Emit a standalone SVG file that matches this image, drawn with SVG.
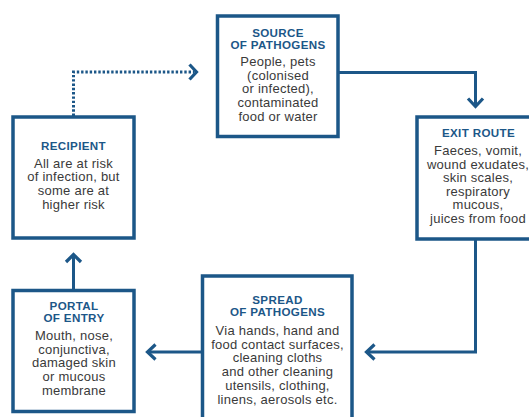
<svg xmlns="http://www.w3.org/2000/svg" width="529" height="417" viewBox="0 0 529 417">
<style>
.box{fill:#ffffff;stroke:#1c5788;stroke-width:3.5}
.t{font-family:"Liberation Sans",Arial,sans-serif;font-weight:bold;font-size:11.6px;fill:#1c5788;text-anchor:middle;letter-spacing:0.35px}
.b{font-family:"Liberation Sans",Arial,sans-serif;font-size:13px;fill:#3a3a3a;text-anchor:middle;letter-spacing:0.25px}
.c{fill:none;stroke:#1c5788;stroke-width:3}
.d{fill:none;stroke:#1c5788;stroke-width:3;stroke-dasharray:2.4 1.9}
.h{fill:none;stroke:#1c5788;stroke-width:3.2;stroke-linecap:butt;stroke-linejoin:miter}
</style>
<rect width="529" height="417" fill="#ffffff"/>
<g id="connectors">
<path class="c" d="M338 72.5 H475.5 V106"/>
<path class="h" d="M468 98.5 L475.5 106.5 L483 98.5"/>
<path class="c" d="M475.5 239 V352 H367"/>
<path class="h" d="M374.5 344.5 L366.5 352 L374.5 359.5"/>
<path class="c" d="M202 352 H148"/>
<path class="h" d="M155.5 344.5 L147.5 352 L155.5 359.5"/>
<path class="c" d="M73.5 290 V255"/>
<path class="h" d="M66 262 L73.5 254.5 L81 262"/>
<path class="d" d="M73.5 116 V72 H194"/>
<path class="h" d="M189.5 64.5 L196.5 72 L189.5 79.5"/>
</g>
<g id="source">
<rect class="box" x="217.5" y="16" width="120.5" height="120.5"/>
<text class="t" x="278" y="36.5">SOURCE</text>
<text class="t" x="278" y="48.5">OF PATHOGENS</text>
<text class="b" x="278" y="66">People, pets</text>
<text class="b" x="278" y="79.7">(colonised</text>
<text class="b" x="278" y="93.4">or infected),</text>
<text class="b" x="278" y="107.1">contaminated</text>
<text class="b" x="278" y="120.8">food or water</text>
</g>
<g id="exit">
<rect class="box" x="417" y="117" width="130" height="122"/>
<text class="t" x="478.5" y="137">EXIT ROUTE</text>
<text class="b" x="478" y="155">Faeces, vomit,</text>
<text class="b" x="478" y="168.6">wound exudates,</text>
<text class="b" x="478" y="182.2">skin scales,</text>
<text class="b" x="478" y="195.8">respiratory</text>
<text class="b" x="478" y="209.4">mucous,</text>
<text class="b" x="478" y="223">juices from food</text>
</g>
<g id="spread">
<rect class="box" x="202.5" y="276" width="149.5" height="160"/>
<text class="t" x="277.5" y="303.5">SPREAD</text>
<text class="t" x="277.5" y="315.5">OF PATHOGENS</text>
<text class="b" x="277.5" y="335">Via hands, hand and</text>
<text class="b" x="277.5" y="348.7">food contact surfaces,</text>
<text class="b" x="277.5" y="362.4">cleaning cloths</text>
<text class="b" x="277.5" y="376.1">and other cleaning</text>
<text class="b" x="277.5" y="389.8">utensils, clothing,</text>
<text class="b" x="277.5" y="403.5">linens, aerosols etc.</text>
</g>
<g id="portal">
<rect class="box" x="13" y="290.5" width="121" height="121"/>
<text class="t" x="74" y="309.5">PORTAL</text>
<text class="t" x="74" y="321.7">OF ENTRY</text>
<text class="b" x="74" y="340">Mouth, nose,</text>
<text class="b" x="74" y="353.7">conjunctiva,</text>
<text class="b" x="74" y="367.4">damaged skin</text>
<text class="b" x="74" y="381.1">or mucous</text>
<text class="b" x="74" y="394.8">membrane</text>
</g>
<g id="recipient">
<rect class="box" x="13" y="117" width="121" height="121"/>
<text class="t" x="73.5" y="149.5">RECIPIENT</text>
<text class="b" x="73.5" y="167.5">All are at risk</text>
<text class="b" x="73.5" y="181.2">of infection, but</text>
<text class="b" x="73.5" y="194.9">some are at</text>
<text class="b" x="73.5" y="208.6">higher risk</text>
</g>
</svg>
